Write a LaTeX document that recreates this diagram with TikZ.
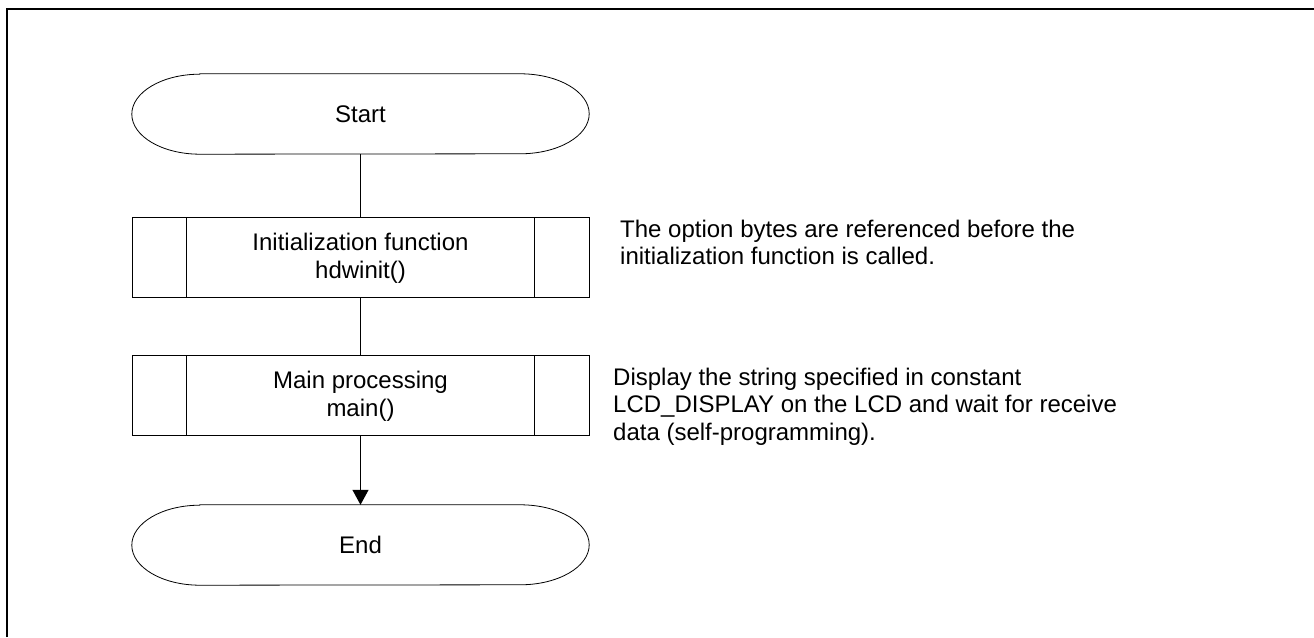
\documentclass[tikz,border=0pt]{standalone}
\usepackage{fontspec}
\setmainfont{Liberation Sans}
\usetikzlibrary{arrows.meta}
\begin{document}
\begin{tikzpicture}[x=1pt,y=1pt,
  every node/.style={font=\fontsize{24}{27.6}\selectfont, inner sep=0pt},
  boxshape/.style={minimum width=457pt, minimum height=80pt, align=center},
  procbox/.style={boxshape, draw, line width=1pt},
  termbox/.style={boxshape},
  termline/.style={line width=0.8pt},
  conn/.style={line width=1.2pt},
  note/.style={anchor=north west, align=left},
  frameline/.style={line width=2.2pt}
]
\useasboundingbox (0,0) rectangle (1314,637);
\fill[white] (0,0) rectangle (1314,637);
% frame (top and left only)
\coordinate (fa) at (7,0);
\coordinate (fb) at (7,628);
\coordinate (fc) at (1314,628);
\draw[frameline] (fa) -- (fb) -- (fc);

\node[termbox] (start) at (360.5,523) {Start};
\node[procbox] (init) at (360.5,379) {Initialization function\\hdwinit()};
\node[procbox] (main) at (360.5,241) {Main processing\\main()};
\node[termbox] (end) at (360.5,92) {End};

% terminal outlines
\foreach \t in {start,end}{
  \draw[termline] ([xshift=68pt]\t.north west) -- ([xshift=-69pt]\t.north east)
    arc[start angle=90,end angle=-90,x radius=69,y radius=40]
    -- ([xshift=68pt]\t.south west)
    arc[start angle=270,end angle=90,x radius=68,y radius=40] -- cycle;
}
% predefined-process inner lines
\foreach \t in {init,main}{
  \draw[line width=1pt] ([xshift=55pt]\t.north west) -- ([xshift=55pt]\t.south west);
  \draw[line width=1pt] ([xshift=-55pt]\t.north east) -- ([xshift=-55pt]\t.south east);
}

\draw[conn] (start) -- (init);
\draw[conn] (init) -- (main);
\draw[conn,-{Triangle[length=15pt,width=16pt]}] (main) -- (end);

\node[note] (n1) at (620,417.2) {The option bytes are referenced before the\\initialization function is called.};
\node[note] (n2) at (613,269.2) {Display the string specified in constant\\LCD\_DISPLAY on the LCD and wait for receive\\data (self-programming).};
\end{tikzpicture}
\end{document}
